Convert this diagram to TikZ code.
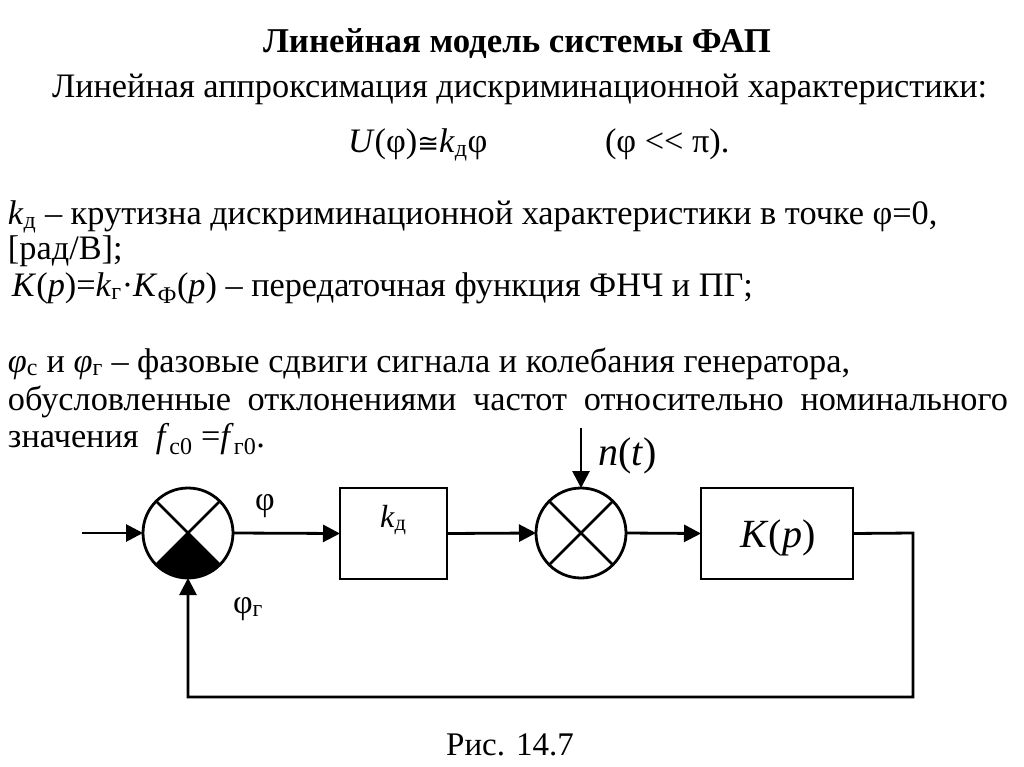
\documentclass[tikz,border=0pt]{standalone}
\usepackage{fontspec}
\setmainfont{Liberation Serif}
\newfontfamily\symf{DejaVu Sans}
\usetikzlibrary{arrows.meta}
\newcommand\sbs[1]{\textsubscript{#1}}
\newcommand\fsz[1]{\fontsize{#1}{#1}\selectfont}
\begin{document}
\begin{tikzpicture}[x=1pt,y=-1pt,
  txt/.style={inner sep=0pt, outer sep=0pt, anchor=base west},
  blk/.style={draw, line width=2.8pt, rectangle, minimum height=91pt, inner sep=0pt, outer sep=0pt},
  sum/.style={draw, line width=2.8pt, circle, minimum size=90pt, inner sep=0pt, outer sep=0pt},
  conn/.style={line width=2.8pt},
  arr/.style={conn, -{Triangle[length=17pt,width=17pt]}}
]
\useasboundingbox (0,0) rectangle (1024,767);

% texts
\node[txt, anchor=base] (title) at (517,53) {\fsz{34.8}\bfseries Линейная модель системы ФАП};
\node[txt] (l2) at (52,98) {\fsz{34.3}Линейная аппроксимация дискриминационной характеристики:};
\node[txt] (f1) at (348,153) {\fsz{34.3}\textit{U}(φ){\symf\fsz{26}≅}\textit{k}\sbs{д}φ};
\node[txt] (f2) at (605,153) {\fsz{34.3}(φ <{}< π).};

\node[txt] (b1) at (8,225) {\fsz{34.3}\textit{k}\sbs{д} – крутизна дискриминационной характеристики в точке φ=0,};
\node[txt] (b2) at (8,259) {\fsz{34.3}[рад/В];};
\node[txt] (b3) at (12,296) {\fsz{34.3}\textit{K}(\textit{p})=\textit{k}\sbs{г}·\textit{K}\sbs{Ф}(\textit{p}) – передаточная функция ФНЧ и ПГ;};
\node[txt] (b4) at (8,372) {\fsz{34.3}\textit{φ}\sbs{с} и \textit{φ}\sbs{г} – фазовые сдвиги сигнала и колебания генератора,};
\node[txt] (b5) at (8,410) {\fsz{34.3}\makebox[1000pt][s]{обусловленные отклонениями частот относительно номинального}};
\node[txt] (b6) at (8,447) {\fsz{34.3}значения\ \ \textit{f}\sbs{с0} =\textit{f}\sbs{г0}.};

\node[txt, anchor=base] (cap) at (510,755) {\fsz{33}Рис. 14.7};

% blocks
\node[sum] (s1) at (188,533) {};
\node[sum] (s2) at (581,533) {};
\node[blk, minimum width=107pt] (kd) at (393.5,533.5) {};
\node[blk, minimum width=152pt] (Kp) at (777,533.5) {};

\fill (s1.center) -- (s1.-45) arc[start angle=45,end angle=135,radius=45] -- cycle;
\draw[conn] (s1.45) -- (s1.225);
\draw[conn] (s1.135) -- (s1.315);
\draw[conn] (s2.45) -- (s2.225);
\draw[conn] (s2.135) -- (s2.315);

% labels
\node[txt] (lphi) at (255,510) {\fsz{34}φ};
\node[txt] (lphig) at (233,613) {\fsz{34}φ\sbs{г}};
\node[txt] (lkd) at (380,527) {\fsz{32}\textit{k}\sbs{д}};
\node[txt, anchor=base] (lKp) at (778,547) {\fsz{40}\textit{K}(\textit{p})};
\node[txt] (lnt) at (598,465) {\fsz{40}\textit{n}(\textit{t})};

% connectors
\coordinate (in) at (82,533);
\coordinate (nin) at (581,428);
\coordinate (fbA) at (913,533);
\coordinate (fbB) at (913,697);
\coordinate (fbC) at (188,697);
\draw[arr] (in) -- (s1.west);
\draw[arr] (s1.east) -- (kd.west);
\draw[arr] (kd.east) -- (s2.west);
\draw[arr] (s2.east) -- (Kp.west);
\draw[arr] (nin) -- (s2.north);
\draw[arr] (Kp.east) -- (fbA) -- (fbB) -- (fbC) -- (s1.south);
\end{tikzpicture}
\end{document}
